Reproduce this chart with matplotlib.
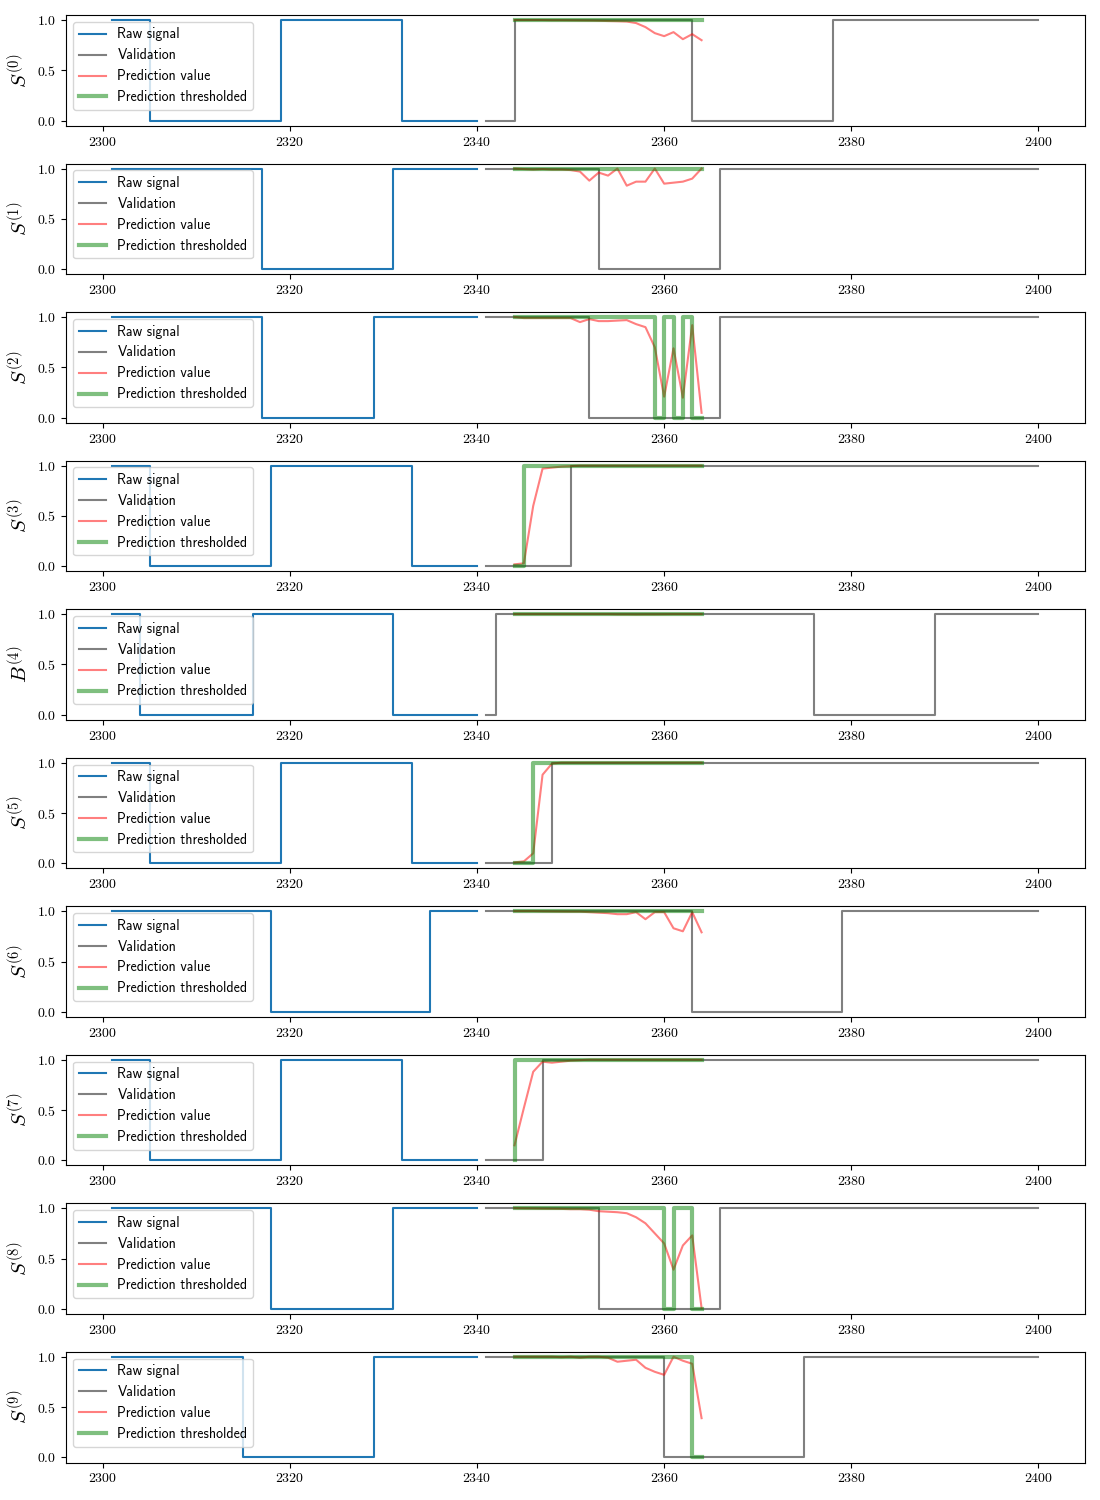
import numpy as np
import matplotlib
matplotlib.use("Agg")
import matplotlib.pyplot as plt

# Time axes of the three parts of each trace
raw_time = np.arange(2301, 2341)
val_time = np.arange(2341, 2401)
pred_time = np.arange(2344, 2365)

# Y axis labels of the ten panels
labels = [r"$S^{(0)}$", r"$S^{(1)}$", r"$S^{(2)}$", r"$S^{(3)}$", r"$B^{(4)}$",
          r"$S^{(5)}$", r"$S^{(6)}$", r"$S^{(7)}$", r"$S^{(8)}$", r"$S^{(9)}$"]

# Raw signal (2301-2340) as runs of (level, number of samples)
raw_runs = [
    [(1, 4), (0, 14), (1, 13), (0, 9)],
    [(1, 16), (0, 14), (1, 10)],
    [(1, 16), (0, 12), (1, 12)],
    [(1, 4), (0, 13), (1, 15), (0, 8)],
    [(1, 3), (0, 12), (1, 15), (0, 10)],
    [(1, 4), (0, 14), (1, 14), (0, 8)],
    [(1, 17), (0, 17), (1, 6)],
    [(1, 4), (0, 14), (1, 13), (0, 9)],
    [(1, 17), (0, 13), (1, 10)],
    [(1, 14), (0, 14), (1, 12)],
]

# Validation signal (2341-2400) as runs of (level, number of samples)
val_runs = [
    [(0, 3), (1, 19), (0, 15), (1, 23)],
    [(1, 12), (0, 13), (1, 35)],
    [(1, 11), (0, 14), (1, 35)],
    [(0, 9), (1, 51)],
    [(0, 1), (1, 34), (0, 13), (1, 12)],
    [(0, 7), (1, 53)],
    [(1, 22), (0, 16), (1, 22)],
    [(0, 6), (1, 54)],
    [(1, 12), (0, 13), (1, 35)],
    [(1, 19), (0, 15), (1, 26)],
]

# Predicted values (2344-2364)
pred_values = [
    [1.0, 1.0, 1.0, 1.0, 0.998, 0.998, 0.997, 0.996, 0.995, 0.993, 0.99,
     0.988, 0.985, 0.97, 0.93, 0.87, 0.84, 0.88, 0.81, 0.86, 0.80],
    [1.0, 0.995, 0.99, 0.995, 0.99, 0.99, 0.985, 0.97, 0.88, 0.96, 0.93,
     1.0, 0.83, 0.87, 0.87, 1.0, 0.85, 0.86, 0.87, 0.90, 1.0],
    [1.0, 0.99, 0.99, 0.99, 0.99, 0.99, 0.99, 0.95, 0.98, 0.96, 0.96,
     0.965, 0.97, 0.93, 0.90, 0.70, 0.21, 0.69, 0.20, 0.92, 0.05],
    [0.02, 0.03, 0.60, 0.97, 0.98, 0.99, 0.995, 1.0, 1.0, 1.0, 1.0,
     1.0, 1.0, 1.0, 1.0, 1.0, 1.0, 1.0, 1.0, 1.0, 1.0],
    [1.0, 1.0, 1.0, 1.0, 1.0, 1.0, 1.0, 1.0, 1.0, 1.0, 1.0,
     0.998, 0.998, 0.997, 0.998, 0.998, 0.999, 1.0, 1.0, 1.0, 1.0],
    [0.01, 0.02, 0.10, 0.88, 0.99, 1.0, 1.0, 1.0, 1.0, 1.0, 1.0,
     1.0, 1.0, 1.0, 1.0, 1.0, 1.0, 1.0, 1.0, 1.0, 1.0],
    [1.0, 1.0, 1.0, 0.998, 0.997, 0.996, 0.995, 0.995, 0.99, 0.985, 0.98,
     0.97, 0.97, 0.99, 0.92, 0.99, 0.99, 0.83, 0.80, 0.99, 0.79],
    [0.15, 0.52, 0.88, 0.98, 0.97, 0.98, 0.99, 0.995, 1.0, 1.0, 1.0,
     1.0, 1.0, 1.0, 1.0, 1.0, 1.0, 1.0, 1.0, 1.0, 1.0],
    [1.0, 0.998, 0.997, 0.995, 0.994, 0.993, 0.99, 0.99, 0.985, 0.97, 0.965,
     0.96, 0.95, 0.91, 0.85, 0.75, 0.65, 0.39, 0.63, 0.73, 0.01],
    [1.0, 1.0, 1.0, 1.0, 1.0, 0.995, 1.0, 0.99, 1.0, 1.0, 0.99,
     0.95, 0.96, 0.97, 0.89, 0.85, 0.82, 1.0, 0.96, 0.93, 0.39],
]

THRESHOLD = 0.5


def expand(runs):
    """Turn a list of (level, count) runs into a flat 0/1 array."""
    levels = [r[0] for r in runs]
    counts = [r[1] for r in runs]
    return np.repeat(levels, counts).astype(float)


def main():
    # Computer Modern look for ticks and labels
    plt.rcParams["font.family"] = "serif"
    plt.rcParams["font.serif"] = ["cmr10"]
    plt.rcParams["mathtext.fontset"] = "cm"
    plt.rcParams["axes.formatter.use_mathtext"] = True

    fig, axes = plt.subplots(10, 1, figsize=(11, 15))
    fig.subplots_adjust(left=0.06, right=0.986, top=0.99, bottom=0.025,
                        hspace=0.34)

    for i, ax in enumerate(axes):
        raw = expand(raw_runs[i])
        val = expand(val_runs[i])
        pred = np.array(pred_values[i])
        thresh = (pred > THRESHOLD).astype(float)

        ax.step(raw_time, raw, where="post", color="tab:blue",
                label="Raw signal")
        ax.step(val_time, val, where="post", color="gray",
                label="Validation")
        ax.plot(pred_time, pred, color="r", alpha=0.5,
                label="Prediction value")
        ax.step(pred_time, thresh, color="g", alpha=0.5, linewidth=3,
                label="Prediction thresholded")

        ax.set_ylabel(labels[i], fontsize=15)
        ax.tick_params(labelsize=10)
        ax.legend(loc="upper left", prop={"family": "cmss10", "size": 10})

    plt.savefig("out.png", dpi=100)


if __name__ == "__main__":
    main()
